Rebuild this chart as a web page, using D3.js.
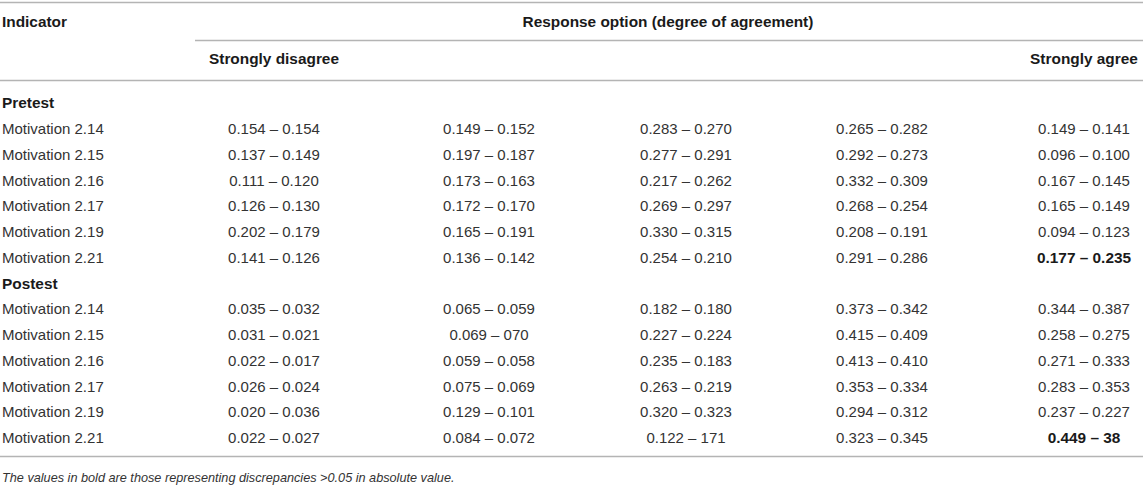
<!DOCTYPE html>
<html>
<head>
<meta charset="utf-8">
<script src="https://cdn.jsdelivr.net/npm/d3@7"></script>
<style>
  body { margin: 0; background: #fff; }
  svg text { font-family: "Liberation Sans", Arial, Helvetica, sans-serif; }
</style>
</head>
<body>
<div id="table"></div>
<script>
// column headers
var responseCols = ["c1", "c2", "c3", "c4", "c5"];
var colLabels = ["Strongly disagree", "", "", "", "Strongly agree"];

var groups = ["Pretest", "Postest"];
var indicators = ["Motivation 2.14", "Motivation 2.15", "Motivation 2.16",
                  "Motivation 2.17", "Motivation 2.19", "Motivation 2.21"];

var pretestValues = [
  ["0.154 – 0.154", "0.149 – 0.152", "0.283 – 0.270", "0.265 – 0.282", "0.149 – 0.141"],
  ["0.137 – 0.149", "0.197 – 0.187", "0.277 – 0.291", "0.292 – 0.273", "0.096 – 0.100"],
  ["0.111 – 0.120", "0.173 – 0.163", "0.217 – 0.262", "0.332 – 0.309", "0.167 – 0.145"],
  ["0.126 – 0.130", "0.172 – 0.170", "0.269 – 0.297", "0.268 – 0.254", "0.165 – 0.149"],
  ["0.202 – 0.179", "0.165 – 0.191", "0.330 – 0.315", "0.208 – 0.191", "0.094 – 0.123"],
  ["0.141 – 0.126", "0.136 – 0.142", "0.254 – 0.210", "0.291 – 0.286", "0.177 – 0.235"]
];
var postestValues = [
  ["0.035 – 0.032", "0.065 – 0.059", "0.182 – 0.180", "0.373 – 0.342", "0.344 – 0.387"],
  ["0.031 – 0.021", "0.069 – 070", "0.227 – 0.224", "0.415 – 0.409", "0.258 – 0.275"],
  ["0.022 – 0.017", "0.059 – 0.058", "0.235 – 0.183", "0.413 – 0.410", "0.271 – 0.333"],
  ["0.026 – 0.024", "0.075 – 0.069", "0.263 – 0.219", "0.353 – 0.334", "0.283 – 0.353"],
  ["0.020 – 0.036", "0.129 – 0.101", "0.320 – 0.323", "0.294 – 0.312", "0.237 – 0.227"],
  ["0.022 – 0.027", "0.084 – 0.072", "0.122 – 171", "0.323 – 0.345", "0.449 – 38"]
];
// cells in bold (group, row, col)
var boldCells = ["Pretest|5|4", "Postest|5|4"];

var footnote = "The values in bold are those representing discrepancies >0.05 in absolute value.";

var width = 1143, height = 495;
var bodySize = 15, headSize = 15.4;

var svg = d3.select("#table").append("svg")
  .attr("width", width).attr("height", height);

// build row list
var rows = [];
groups.forEach(function (g) {
  rows.push({ type: "group", label: g });
  var vals = g === "Pretest" ? pretestValues : postestValues;
  indicators.forEach(function (ind, i) {
    rows.push({ type: "data", label: ind, group: g, idx: i, values: vals[i] });
  });
});

var y = d3.scalePoint()
  .domain(d3.range(rows.length))
  .range([103, 438]);

var x = d3.scaleOrdinal()
  .domain(responseCols)
  .range([274, 489, 686, 882, 1084]);

var lineColor = "#b4b4b4";
var textColor = "#333";
var headColor = "#1a1a1a";

function hline(x1, x2, yy) {
  svg.append("line")
    .attr("x1", x1).attr("x2", x2)
    .attr("y1", yy).attr("y2", yy)
    .attr("stroke", lineColor).attr("stroke-width", 1.6);
}
hline(0, width, 2.5);
hline(195, width, 40.5);
hline(0, width, 80.5);
hline(0, width, 456.5);

// headers
svg.append("text")
  .attr("x", 2).attr("y", 22)
  .attr("dy", "0.35em")
  .attr("font-size", headSize).attr("font-weight", "bold").attr("fill", headColor)
  .text("Indicator");

svg.append("text")
  .attr("x", 668).attr("y", 22)
  .attr("dy", "0.35em").attr("text-anchor", "middle")
  .attr("font-size", headSize).attr("font-weight", "bold").attr("fill", headColor)
  .text("Response option (degree of agreement)");

svg.selectAll(".colhead")
  .data(responseCols)
  .enter().append("text")
  .attr("class", "colhead")
  .attr("x", function (d) { return x(d); })
  .attr("y", 59)
  .attr("dy", "0.35em").attr("text-anchor", "middle")
  .attr("font-size", headSize).attr("font-weight", "bold").attr("fill", headColor)
  .text(function (d, i) { return colLabels[i]; });

// body rows
var rowG = svg.selectAll(".row")
  .data(rows)
  .enter().append("g")
  .attr("class", "row")
  .attr("transform", function (d, i) { return "translate(0," + y(i) + ")"; });

rowG.append("text")
  .attr("x", 2)
  .attr("dy", "0.35em")
  .attr("font-size", function (d) { return d.type === "group" ? headSize : bodySize; })
  .attr("font-weight", function (d) { return d.type === "group" ? "bold" : "normal"; })
  .attr("fill", function (d) { return d.type === "group" ? headColor : textColor; })
  .text(function (d) { return d.label; });

rowG.filter(function (d) { return d.type === "data"; })
  .selectAll(".cell")
  .data(function (d) {
    return d.values.map(function (v, j) {
      return { v: v, col: responseCols[j], bold: boldCells.indexOf(d.group + "|" + d.idx + "|" + j) >= 0 };
    });
  })
  .enter().append("text")
  .attr("class", "cell")
  .attr("x", function (c) { return x(c.col); })
  .attr("dy", "0.35em").attr("text-anchor", "middle")
  .attr("font-size", function (c) { return c.bold ? headSize : bodySize; })
  .attr("font-weight", function (c) { return c.bold ? "bold" : "normal"; })
  .attr("fill", function (c) { return c.bold ? headColor : textColor; })
  .text(function (c) { return c.v; });

svg.append("text")
  .attr("x", 2).attr("y", 478)
  .attr("dy", "0.35em")
  .attr("font-size", 12.7).attr("font-style", "italic").attr("fill", textColor)
  .text(footnote);
</script>
</body>
</html>
